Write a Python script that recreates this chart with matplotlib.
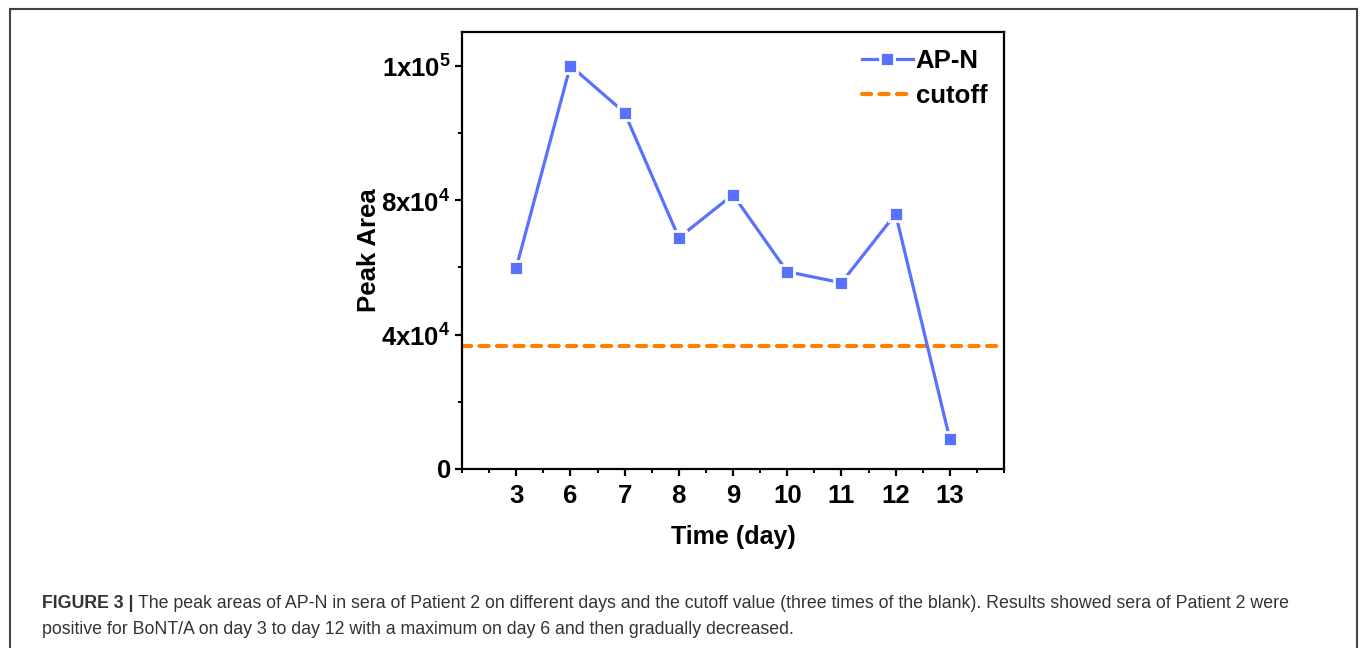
import matplotlib
matplotlib.use("Agg")
import matplotlib.pyplot as plt
from matplotlib.ticker import FixedLocator

plt.rcParams["font.family"] = ["Liberation Sans", "DejaVu Sans"]
plt.rcParams["mathtext.fontset"] = "custom"
plt.rcParams["mathtext.rm"] = "Liberation Sans:bold"
plt.rcParams["mathtext.bf"] = "Liberation Sans:bold"

# ---------------------------------------------------------------------------
# Data
# ---------------------------------------------------------------------------
days = ["3", "6", "7", "8", "9", "10", "11", "12", "13"]
peak_area = [59800, 120000, 106000, 68800, 81600, 58700, 55400, 75900, 8900]
cutoff = 36600

y_ticks = [0, 40000, 80000, 120000]
y_ticklabels = ["0", r"4x10$^{4}$", r"8x10$^{4}$", r"1x10$^{5}$"]

caption_bold = "FIGURE 3 | "
caption_lines = [
    "The peak areas of AP-N in sera of Patient 2 on different days and the cutoff value "
    "(three times of the blank). Results showed sera of Patient 2 were",
    "positive for BoNT/A on day 3 to day 12 with a maximum on day 6 and then gradually decreased.",
]

blue = "#5872FF"
orange = "#FF8000"

# ---------------------------------------------------------------------------
# Figure
# ---------------------------------------------------------------------------
fig = plt.figure(figsize=(13.6, 6.48), dpi=100)
ax = fig.add_axes([462 / 1360, 1 - 469 / 648, 542 / 1360, 437 / 648])

xpos = list(range(1, len(days) + 1))
ax.plot(xpos, peak_area, color=blue, lw=2.3, marker="s", ms=9.5,
        mfc=blue, mec="white", mew=2.0, label="AP-N", zorder=3)
ax.axhline(cutoff, color=orange, lw=3.0, ls=(0, (2.2, 2.0)),
           dash_capstyle="round", label="cutoff", zorder=2)

ax.set_xlim(0, len(days) + 1)
ax.set_ylim(0, 130000)
ax.set_xticks(xpos)
ax.set_xticklabels(days)
ax.xaxis.set_minor_locator(FixedLocator([0] + [p + 0.5 for p in range(0, len(days) + 1)] + [len(days) + 1]))
ax.set_yticks(y_ticks)
ax.set_yticklabels(y_ticklabels)
ax.yaxis.set_minor_locator(FixedLocator([20000, 60000, 100000]))

for s in ax.spines.values():
    s.set_linewidth(1.6)
ax.tick_params(which="major", direction="out", length=5, width=1.6,
               labelsize=18.5, pad=6)
ax.tick_params(axis="y", which="major", pad=3)
ax.tick_params(which="minor", direction="out", length=3, width=1.4)
for lab in ax.get_xticklabels() + ax.get_yticklabels():
    lab.set_fontweight("bold")

ax.set_xlabel("Time (day)", fontsize=18, fontweight="bold", labelpad=12)
ax.set_ylabel("Peak Area", fontsize=18.5, fontweight="bold", labelpad=0.5)

leg = ax.legend(loc="upper right", frameon=False, handlelength=2.0,
                handletextpad=0.1, labelspacing=0.45, borderaxespad=0.25,
                prop={"weight": "bold", "size": 18.5})

# outer frame (bottom edge falls outside the image)
fig.add_artist(plt.Rectangle((10 / 1360, -0.05), 1347 / 1360, 1 - 9 / 648 + 0.05,
                             transform=fig.transFigure, fill=False,
                             ec="#444444", lw=1.5))

# caption
renderer = fig.canvas.get_renderer()
cap_color = "#333333"
cap_size = 12.8
t0 = fig.text(42 / 1360, 1 - 603 / 648, caption_bold, fontsize=cap_size,
              fontweight="bold", color=cap_color, va="center")
bb = t0.get_window_extent(renderer)
fig.text(bb.x1 / 1360, 1 - 603 / 648, caption_lines[0], fontsize=cap_size,
         color=cap_color, va="center")
fig.text(42 / 1360, 1 - 630 / 648, caption_lines[1], fontsize=cap_size,
         color=cap_color, va="center")

fig.savefig("out.png", dpi=100)
